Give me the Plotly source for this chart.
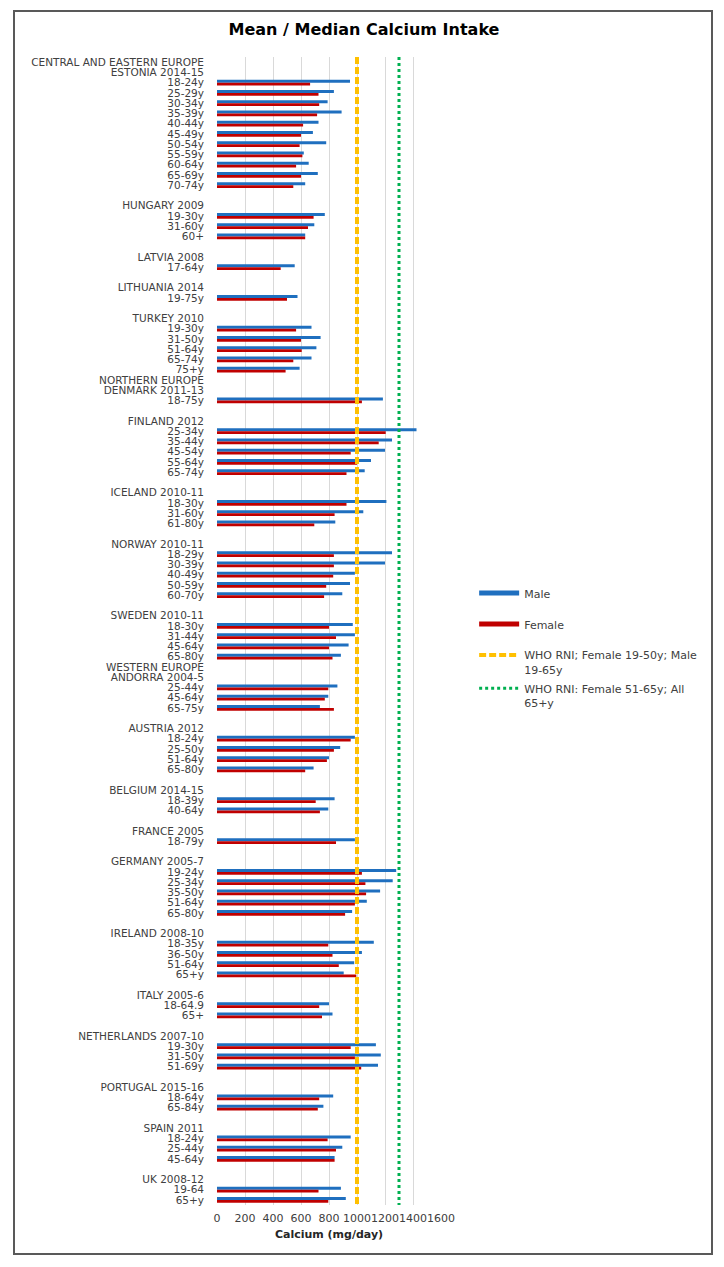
import plotly.graph_objects as go

# row labels top to bottom ('' = spacer row)
rows = [
    "CENTRAL AND EASTERN EUROPE", "ESTONIA 2014-15",
    "18-24y", "25-29y", "30-34y", "35-39y", "40-44y", "45-49y", "50-54y",
    "55-59y", "60-64y", "65-69y", "70-74y",
    "",
    "HUNGARY 2009", "19-30y", "31-60y", "60+",
    "",
    "LATVIA 2008", "17-64y",
    "",
    "LITHUANIA 2014", "19-75y",
    "",
    "TURKEY 2010", "19-30y", "31-50y", "51-64y", "65-74y", "75+y",
    "NORTHERN EUROPE", "DENMARK 2011-13", "18-75y",
    "",
    "FINLAND 2012", "25-34y", "35-44y", "45-54y", "55-64y", "65-74y",
    "",
    "ICELAND 2010-11", "18-30y", "31-60y", "61-80y",
    "",
    "NORWAY 2010-11", "18-29y", "30-39y", "40-49y", "50-59y", "60-70y",
    "",
    "SWEDEN 2010-11", "18-30y", "31-44y", "45-64y", "65-80y",
    "WESTERN EUROPE", "ANDORRA 2004-5", "25-44y", "45-64y", "65-75y",
    "",
    "AUSTRIA 2012", "18-24y", "25-50y", "51-64y", "65-80y",
    "",
    "BELGIUM 2014-15", "18-39y", "40-64y",
    "",
    "FRANCE 2005", "18-79y",
    "",
    "GERMANY 2005-7", "19-24y", "25-34y", "35-50y", "51-64y", "65-80y",
    "",
    "IRELAND 2008-10", "18-35y", "36-50y", "51-64y", "65+y",
    "",
    "ITALY 2005-6", "18-64.9", "65+",
    "",
    "NETHERLANDS 2007-10", "19-30y", "31-50y", "51-69y",
    "",
    "PORTUGAL 2015-16", "18-64y", "65-84y",
    "",
    "SPAIN 2011", "18-24y", "25-44y", "45-64y",
    "",
    "UK 2008-12", "19-64", "65+y",
]

male = [
    None, None,
    950, 835, 790, 890, 725, 685, 780, 620, 655, 720, 630,
    None,
    None, 770, 695, 630,
    None,
    None, 555,
    None,
    None, 575,
    None,
    None, 675, 740, 710, 675, 590,
    None, None, 1185,
    None,
    None, 1425, 1250, 1200, 1100, 1055,
    None,
    None, 1210, 1045, 845,
    None,
    None, 1250, 1200, 985, 950, 895,
    None,
    None, 970, 985, 940, 885,
    None, None, 860, 795, 735,
    None,
    None, 985, 880, 800, 690,
    None,
    None, 840, 795,
    None,
    None, 985,
    None,
    None, 1280, 1255, 1165, 1070, 965,
    None,
    None, 1120, 1035, 980, 905,
    None,
    None, 800, 825,
    None,
    None, 1135, 1170, 1150,
    None,
    None, 830, 760,
    None,
    None, 955, 895, 840,
    None,
    None, 885, 920,
]

female = [
    None, None,
    665, 725, 730, 715, 615, 600, 590, 610, 565, 600, 545,
    None,
    None, 690, 650, 630,
    None,
    None, 455,
    None,
    None, 500,
    None,
    None, 565, 600, 605, 545, 490,
    None, None, 1035,
    None,
    None, 1205, 1155, 955, 1000, 925,
    None,
    None, 925, 840, 695,
    None,
    None, 835, 835, 830, 780, 765,
    None,
    None, 800, 850, 800, 825,
    None, None, 795, 770, 835,
    None,
    None, 955, 835, 785, 630,
    None,
    None, 705, 735,
    None,
    None, 850,
    None,
    None, 1035, 1060, 1065, 985, 915,
    None,
    None, 795, 825, 870, 995,
    None,
    None, 730, 750,
    None,
    None, 955, 985, 1030,
    None,
    None, 730, 720,
    None,
    None, 790, 850, 840,
    None,
    None, 725, 795,
]

rni_values = [1000, 1300]
rni_names = ["WHO RNI; Female 19-50y; Male<br>19-65y",
             "WHO RNI: Female 51-65y; All<br>65+y"]
x_ticks = [0, 200, 400, 600, 800, 1000, 1200, 1400, 1600]

BLUE = "#1F6FBF"
RED = "#C00000"
YELLOW = "#FFC000"
GREEN = "#00B050"
TXT = "#404040"
FONT = "DejaVu Sans"

ypos = list(range(len(rows)))
tickvals = [i for i, r in enumerate(rows) if r]
ticktext = [r for r in rows if r]

fig = go.Figure()
fig.add_trace(go.Bar(y=ypos, x=male, orientation="h", marker_color=BLUE,
                     marker_line_width=0, showlegend=False, name="Male"))
fig.add_trace(go.Bar(y=ypos, x=female, orientation="h", marker_color=RED,
                     marker_line_width=0, showlegend=False, name="Female"))

# legend entries drawn as lines like the original
fig.add_trace(go.Scatter(x=[None], y=[None], mode="lines", name="Male",
                         line=dict(color=BLUE, width=5), legendgroup="m"))
fig.add_trace(go.Scatter(x=[None], y=[None], mode="lines", name="Female",
                         line=dict(color=RED, width=5), legendgroup="f"))

# reference lines
y_span = [-0.5, len(rows) - 0.5]
fig.add_trace(go.Scatter(x=[rni_values[0]] * 2, y=y_span, mode="lines",
                         name=rni_names[0], legendgroup="r1",
                         line=dict(color=YELLOW, width=4, dash="7px,3px")))
fig.add_trace(go.Scatter(x=[rni_values[1]] * 2, y=y_span, mode="lines",
                         name=rni_names[1], legend="legend2",
                         line=dict(color=GREEN, width=3, dash="dot")))

# page has an 8px body margin, so the figure is 8px smaller and shifted
fig.update_layout(
    width=716, height=1259,
    margin=dict(l=209, r=283, t=49, b=62),
    paper_bgcolor="white", plot_bgcolor="white",
    font=dict(family=FONT, size=11, color=TXT),
    title=dict(text="<b>Mean / Median Calcium Intake</b>",
               x=356 / 716, xref="container", xanchor="center",
               y=1 - 21 / 1259, yanchor="middle",
               font=dict(size=16, color="#000000")),
    barmode="group", bargap=0.45, bargroupgap=0,
    showlegend=True,
    legend=dict(x=1.148, xanchor="left", y=0.545, yanchor="top",
                font=dict(size=11, color=TXT), itemwidth=40,
                tracegroupgap=12, traceorder="grouped", valign="top",
                bgcolor="rgba(0,0,0,0)"),
    legend2=dict(x=1.148, xanchor="left", y=0.462, yanchor="top",
                 font=dict(size=11, color=TXT), itemwidth=40, valign="top",
                 bgcolor="rgba(0,0,0,0)"),
)

fig.update_xaxes(range=[0, 1600], tickvals=x_ticks, tickangle=0,
                 showgrid=True, gridcolor="#D9D9D9", gridwidth=1,
                 zeroline=False, showline=False, ticks="",
                 ticklabelstandoff=5,
                 tickfont=dict(size=11, color=TXT),
                 title=dict(text="<b>Calcium (mg/day)</b>", standoff=6,
                            font=dict(size=11, color="#262626")))
fig.update_yaxes(range=[len(rows) - 0.5, -0.5], tickvals=tickvals,
                 ticktext=ticktext, showgrid=False, zeroline=False,
                 showline=False, ticks="", ticklabelstandoff=12,
                 tickfont=dict(size=10.5, color=TXT))

# outer frame of the chart
fig.add_shape(type="rect", xref="paper", yref="paper",
              x0=(14 - 217) / 224, x1=(712 - 217) / 224,
              y0=(1205 - 1254) / 1148, y1=(1205 - 11) / 1148,
              line=dict(color="#595959", width=2), layer="below")

fig.write_html("out.html")
